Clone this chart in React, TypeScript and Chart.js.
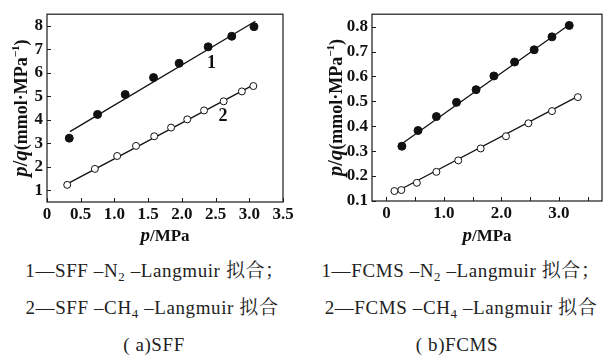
import React, { useEffect, useRef } from "react";
import { Chart, registerables } from "chart.js";

Chart.register(...registerables);

const FONT = "'Liberation Serif', 'Noto Serif CJK SC', serif";

// ---------- (a) SFF ----------
const sffPressureN2 = [0.33, 0.75, 1.16, 1.58, 1.96, 2.39, 2.74, 3.07];
const sffRatioN2 = [3.22, 4.23, 5.08, 5.8, 6.41, 7.11, 7.56, 7.97];
const sffPressureCH4 = [0.3, 0.71, 1.04, 1.32, 1.59, 1.84, 2.08, 2.33, 2.62, 2.89, 3.06];
const sffRatioCH4 = [1.23, 1.91, 2.46, 2.89, 3.3, 3.67, 4.02, 4.4, 4.79, 5.21, 5.44];
const sffFitN2X = [0.34, 3.09];
const sffFitN2Y = [3.5, 8.2];
const sffFitCH4X = [0.3, 3.07];
const sffFitCH4Y = [1.27, 5.5];
const sffXTicks = [0, 0.5, 1.0, 1.5, 2.0, 2.5, 3.0, 3.5];
const sffYTicks = [1, 2, 3, 4, 5, 6, 7, 8];
const sffCurveLabels = ["1", "2"];
const sffCurveLabelX = [2.44, 2.61];
const sffCurveLabelY = [6.41, 4.16];

// ---------- (b) FCMS ----------
const fcmsPressureN2 = [0.27, 0.55, 0.87, 1.22, 1.56, 1.87, 2.23, 2.57, 2.88, 3.18];
const fcmsRatioN2 = [0.32, 0.383, 0.439, 0.496, 0.547, 0.602, 0.658, 0.707, 0.759, 0.805];
const fcmsPressureCH4 = [0.14, 0.26, 0.53, 0.87, 1.25, 1.64, 2.08, 2.47, 2.88, 3.33];
const fcmsRatioCH4 = [0.14, 0.144, 0.173, 0.217, 0.263, 0.311, 0.36, 0.412, 0.461, 0.517];
const fcmsFitN2X = [0.27, 3.18];
const fcmsFitN2Y = [0.33, 0.808];
const fcmsFitCH4X = [0.26, 3.33];
const fcmsFitCH4Y = [0.148, 0.52];
const fcmsXTicks = [0, 0.5, 1.0, 1.5, 2.0, 2.5, 3.0, 3.5];
const fcmsYTicks = [0.1, 0.2, 0.3, 0.4, 0.5, 0.6, 0.7, 0.8];

const pts = (xs: number[], ys: number[]) => xs.map((x, i) => ({ x, y: ys[i] }));

type Part = { text: string; font: string; dy?: number };

function drawRich(ctx: CanvasRenderingContext2D, parts: Part[], cx: number, cy: number, rotate: boolean) {
  ctx.save();
  ctx.translate(cx, cy);
  if (rotate) ctx.rotate(-Math.PI / 2);
  const widths = parts.map((p) => {
    ctx.font = p.font;
    return ctx.measureText(p.text).width;
  });
  const total = widths.reduce((a, b) => a + b, 0);
  let x = -total / 2;
  ctx.fillStyle = "#111";
  ctx.textBaseline = "alphabetic";
  ctx.textAlign = "left";
  parts.forEach((p, i) => {
    ctx.font = p.font;
    ctx.fillText(p.text, x, 6 + (p.dy || 0));
    x += widths[i];
  });
  ctx.restore();
}

const yTitleParts: Part[] = [
  { text: "p", font: `italic bold 21px ${FONT}` },
  { text: "/", font: `bold 20px ${FONT}` },
  { text: "q", font: `italic bold 21px ${FONT}` },
  { text: "(mmol·MPa", font: `bold 18px ${FONT}` },
  { text: "−1", font: `bold 11px ${FONT}`, dy: -8 },
  { text: ")", font: `bold 18px ${FONT}` },
];
const xTitleParts: Part[] = [
  { text: "p", font: `italic bold 19px ${FONT}` },
  { text: "/MPa", font: `bold 17px ${FONT}` },
];

const framePlugin = {
  id: "frame",
  afterDraw(chart: any, _args: any, opts: any) {
    const { ctx, chartArea: a, scales } = chart;
    const sx = scales.x;
    const sy = scales.y;
    ctx.save();
    ctx.strokeStyle = "#1a1a1a";
    ctx.lineWidth = 1.2;
    ctx.strokeRect(a.left, a.top, a.right - a.left, a.bottom - a.top);
    ctx.beginPath();
    for (const v of opts.xTicks) {
      const px = Math.round(sx.getPixelForValue(v)) + 0.5;
      ctx.moveTo(px, a.bottom);
      ctx.lineTo(px, a.bottom - 4);
    }
    for (const v of opts.yTicks) {
      const py = Math.round(sy.getPixelForValue(v)) + 0.5;
      ctx.moveTo(a.left, py);
      ctx.lineTo(a.left + 4, py);
    }
    ctx.lineWidth = 1;
    ctx.stroke();
    drawRich(ctx, yTitleParts, opts.yTitleX, (a.top + a.bottom) / 2, true);
    drawRich(ctx, xTitleParts, opts.xTitleX, opts.xTitleY, false);
    ctx.fillStyle = "#111";
    ctx.font = `bold 18px ${FONT}`;
    ctx.textAlign = "center";
    ctx.textBaseline = "middle";
    (opts.labels || []).forEach((t: string, i: number) => {
      ctx.fillText(t, sx.getPixelForValue(opts.labelX[i]), sy.getPixelForValue(opts.labelY[i]));
    });
    ctx.restore();
  },
};

type Spec = {
  width: number;
  height: number;
  n2: { x: number; y: number }[];
  ch4: { x: number; y: number }[];
  fitN2: { x: number; y: number }[];
  fitCH4: { x: number; y: number }[];
  xMin: number;
  xMax: number;
  yMin: number;
  yMax: number;
  xTicks: number[];
  yTicks: number[];
  xLabel: (v: number) => string;
  yLabel: (v: number) => string;
  yAxisWidth: number;
  xAxisHeight: number;
  padTop: number;
  padRight: number;
  yTitleX: number;
  xTitleX: number;
  xTitleY: number;
  labels?: string[];
  labelX?: number[];
  labelY?: number[];
};

function Panel({ spec }: { spec: Spec }) {
  const ref = useRef<HTMLCanvasElement | null>(null);
  useEffect(() => {
    if (!ref.current) return;
    const lineDs = (data: any) => ({
      data,
      showLine: true,
      borderColor: "#111",
      borderWidth: 1.3,
      pointRadius: 0,
      fill: false,
      order: 2,
    });
    const chart = new Chart(ref.current, {
      type: "scatter",
      data: {
        datasets: [
          lineDs(spec.fitN2),
          lineDs(spec.fitCH4),
          {
            data: spec.n2,
            pointRadius: 4,
            pointBackgroundColor: "#111",
            pointBorderColor: "#111",
            pointBorderWidth: 1,
            showLine: false,
            order: 1,
          },
          {
            data: spec.ch4,
            pointRadius: 3.5,
            pointBackgroundColor: "#fff",
            pointBorderColor: "#111",
            pointBorderWidth: 1,
            showLine: false,
            order: 1,
          },
        ] as any,
      },
      options: {
        animation: false,
        responsive: false,
        maintainAspectRatio: false,
        events: [],
        layout: { padding: { top: spec.padTop, right: spec.padRight, left: 0, bottom: 0 } },
        plugins: {
          legend: { display: false },
          tooltip: { enabled: false },
          frame: {
            xTicks: spec.xTicks,
            yTicks: spec.yTicks,
            yTitleX: spec.yTitleX,
            xTitleX: spec.xTitleX,
            xTitleY: spec.xTitleY,
            labels: spec.labels,
            labelX: spec.labelX,
            labelY: spec.labelY,
          },
        } as any,
        scales: {
          x: {
            type: "linear",
            min: spec.xMin,
            max: spec.xMax,
            grid: { display: false, drawTicks: false },
            border: { display: false },
            afterBuildTicks: (s: any) => {
              s.ticks = spec.xTicks.map((v) => ({ value: v }));
            },
            afterFit: (s: any) => {
              s.height = spec.xAxisHeight;
            },
            ticks: {
              color: "#111",
              padding: 2,
              maxRotation: 0,
              autoSkip: false,
              font: { family: FONT, size: 17, weight: "bold" },
              callback: (v: any) => spec.xLabel(Number(v)),
            },
          },
          y: {
            type: "linear",
            min: spec.yMin,
            max: spec.yMax,
            grid: { display: false, drawTicks: false },
            border: { display: false },
            afterBuildTicks: (s: any) => {
              s.ticks = spec.yTicks.map((v) => ({ value: v }));
            },
            afterFit: (s: any) => {
              s.width = spec.yAxisWidth;
            },
            ticks: {
              color: "#111",
              padding: 4,
              autoSkip: false,
              font: { family: FONT, size: 17, weight: "bold" },
              callback: (v: any) => spec.yLabel(Number(v)),
            },
          },
        },
      } as any,
      plugins: [framePlugin as any],
    });
    return () => chart.destroy();
  }, [spec]);
  return (
    <canvas
      ref={ref}
      width={spec.width}
      height={spec.height}
      style={{ width: spec.width, height: spec.height, display: "block" }}
    />
  );
}

const sffSpec: Spec = {
  width: 300,
  height: 250,
  n2: pts(sffPressureN2, sffRatioN2),
  ch4: pts(sffPressureCH4, sffRatioCH4),
  fitN2: pts(sffFitN2X, sffFitN2Y),
  fitCH4: pts(sffFitCH4X, sffFitCH4Y),
  xMin: 0,
  xMax: 3.5,
  yMin: 0.5,
  yMax: 8.5,
  xTicks: sffXTicks,
  yTicks: sffYTicks,
  xLabel: (v) => (v === 0 ? "0" : v.toFixed(1)),
  yLabel: (v) => String(v),
  yAxisWidth: 47,
  xAxisHeight: 48,
  padTop: 12,
  padRight: 17,
  yTitleX: 21,
  xTitleX: 165,
  xTitleY: 235,
  labels: sffCurveLabels,
  labelX: sffCurveLabelX,
  labelY: sffCurveLabelY,
};

const fcmsSpec: Spec = {
  width: 307,
  height: 250,
  n2: pts(fcmsPressureN2, fcmsRatioN2),
  ch4: pts(fcmsPressureCH4, fcmsRatioCH4),
  fitN2: pts(fcmsFitN2X, fcmsFitN2Y),
  fitCH4: pts(fcmsFitCH4X, fcmsFitCH4Y),
  xMin: -0.25,
  xMax: 3.75,
  yMin: 0.1,
  yMax: 0.85,
  xTicks: fcmsXTicks,
  yTicks: fcmsYTicks,
  xLabel: (v) => (Math.abs(v % 1) < 1e-9 ? (v === 0 ? "0" : v.toFixed(1)) : ""),
  yLabel: (v) => v.toFixed(1),
  yAxisWidth: 72,
  xAxisHeight: 49,
  padTop: 13,
  padRight: 1,
  yTitleX: 36,
  xTitleX: 187,
  xTitleY: 235,
};

const capStyle: React.CSSProperties = {
  position: "absolute",
  width: 320,
  textAlign: "center",
  fontFamily: FONT,
  fontSize: 19,
  letterSpacing: "0.6px",
  lineHeight: "20px",
  color: "#222",
  whiteSpace: "nowrap",
};
const sub: React.CSSProperties = { fontSize: "0.68em", verticalAlign: "-0.3em", lineHeight: 0 };

function Caption({ cx, cy, children }: { cx: number; cy: number; children: React.ReactNode }) {
  return <div style={{ ...capStyle, left: cx - 160, top: cy - 10 }}>{children}</div>;
}

export default function App() {
  return (
    <div
      style={{
        position: "absolute",
        left: 0,
        top: 0,
        width: 607,
        height: 357,
        background: "#fff",
        overflow: "hidden",
      }}
    >
      <div style={{ position: "absolute", left: 0, top: 0 }}>
        <Panel spec={sffSpec} />
      </div>
      <div style={{ position: "absolute", left: 300, top: 0 }}>
        <Panel spec={fcmsSpec} />
      </div>
      <Caption cx={155} cy={271}>
        1—SFF –N<span style={sub}>2</span> –Langmuir 拟合；
      </Caption>
      <Caption cx={152} cy={308}>
        2—SFF –CH<span style={sub}>4</span> –Langmuir 拟合
      </Caption>
      <Caption cx={154} cy={345}>
        ( a)SFF
      </Caption>
      <Caption cx={461} cy={271}>
        1—FCMS –N<span style={sub}>2</span> –Langmuir 拟合；
      </Caption>
      <Caption cx={461} cy={308}>
        2—FCMS –CH<span style={sub}>4</span> –Langmuir 拟合
      </Caption>
      <Caption cx={457} cy={345}>
        ( b)FCMS
      </Caption>
    </div>
  );
}
